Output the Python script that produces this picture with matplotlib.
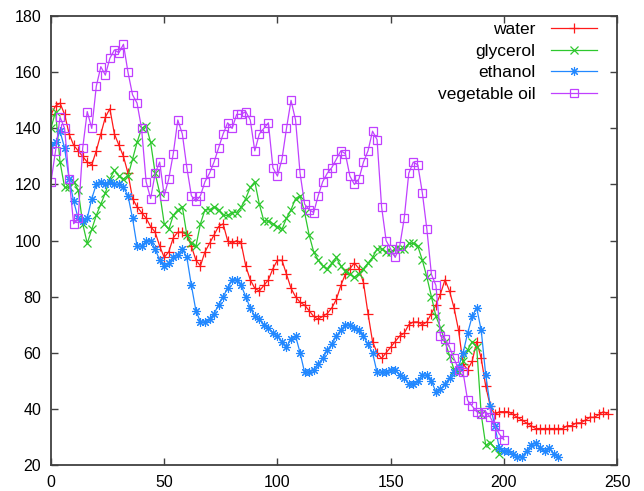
import matplotlib

matplotlib.use("Agg")

import matplotlib.pyplot as plt
import numpy as np

plt.rcParams["font.family"] = ["Liberation Sans", "DejaVu Sans"]

# values, every 2 units along x
water_x = np.arange(0, 248, 2)
water = [
    145, 148, 149, 145, 138, 134, 132, 130, 128, 127, 132, 138, 144, 147, 138, 134,
    130, 124, 115, 112, 110, 108, 105, 103, 98, 94, 96, 101, 103, 103, 102, 98,
    93, 91, 96, 99, 102, 105, 106, 100, 99, 100, 99, 91, 86, 83, 82, 84,
    86, 90, 93, 93, 88, 83, 80, 78, 77, 75, 73, 72, 73, 74, 76, 79,
    84, 88, 90, 92, 90, 85, 74, 64, 60, 58, 60, 62, 64, 66, 67, 70,
    71, 71, 70, 71, 74, 77, 81, 86, 82, 76, 68, 56, 54, 57, 64, 58,
    48, 41, 38, 39, 39, 39, 38, 37, 36, 35, 34, 33, 33, 33, 33, 33,
    33, 33, 34, 34, 35, 35, 36, 37, 37, 38, 39, 38,
]

glycerol_x = np.arange(0, 200, 2)
glycerol = [
    140, 146, 128, 119, 119, 121, 118, 106, 99, 104, 109, 113, 117, 122, 125, 123,
    122, 123, 129, 135, 140, 141, 135, 124, 117, 106, 104, 109, 111, 112, 102, 99,
    98, 106, 111, 111, 112, 111, 109, 109, 110, 110, 112, 115, 119, 121, 113, 107,
    107, 106, 105, 104, 108, 111, 115, 116, 110, 102, 96, 93, 91, 90, 92, 94,
    91, 89, 88, 87, 88, 90, 92, 94, 97, 97, 96, 96, 97, 97, 97, 99,
    99, 98, 93, 87, 80, 73, 69, 64, 59, 54, 53, 57, 61, 64, 62, 38,
    27, 28, 26, 24,
]

ethanol_x = np.arange(0, 226, 2)
ethanol = [
    134, 135, 139, 133, 122, 114, 108, 107, 108, 115, 120, 121, 120, 121, 120, 120,
    119, 116, 108, 98, 98, 100, 100, 97, 93, 91, 92, 94, 95, 97, 94, 84,
    75, 71, 71, 72, 74, 77, 80, 83, 86, 86, 84, 80, 76, 73, 72, 70,
    69, 67, 66, 64, 62, 65, 66, 60, 53, 53, 54, 56, 58, 61, 63, 66,
    68, 70, 70, 69, 68, 66, 63, 60, 53, 53, 53, 54, 54, 52, 51, 49,
    49, 50, 52, 52, 50, 46, 47, 49, 51, 53, 55, 60, 67, 73, 76, 68,
    52, 41, 34, 26, 25, 25, 24, 23, 23, 25, 27, 28, 26, 25, 26, 24,
    23,
]

oil_x = np.arange(0, 202, 2)
oil = [
    121, 132, 144, 140, 122, 106, 108, 133, 146, 140, 155, 162, 159, 165, 168, 167,
    170, 160, 152, 149, 140, 121, 115, 124, 128, 116, 122, 131, 143, 138, 126, 116,
    114, 116, 121, 124, 128, 133, 138, 142, 140, 145, 145, 146, 143, 132, 138, 140,
    142, 126, 123, 129, 140, 150, 143, 124, 113, 111, 110, 116, 121, 124, 126, 129,
    132, 131, 123, 120, 122, 128, 132, 139, 136, 112, 100, 97, 94, 98, 108, 124,
    128, 127, 117, 104, 88, 84, 66, 65, 62, 58, 54, 53, 43, 41, 39, 38,
    39, 37, 34, 31, 29,
]

labels = ["water", "glycerol", "ethanol", "vegetable oil"]
colors = ["#ff1a1a", "#2ec82e", "#2288ff", "#c040ff"]

fig = plt.figure(figsize=(6.44, 4.91), dpi=100)
ax = fig.add_axes([0.0792, 0.053, 0.879, 0.914])

ax.plot(water_x, water, color=colors[0], lw=0.9, marker="+", ms=7, mew=0.9, label=labels[0])
ax.plot(glycerol_x, glycerol, color=colors[1], lw=0.9, marker="x", ms=6, mew=0.9, label=labels[1])
ax.plot(ethanol_x, ethanol, color=colors[2], lw=0.9, marker=(8, 2, 0), ms=6.5, mew=0.8, label=labels[2])
ax.plot(oil_x, oil, color=colors[3], lw=0.9, marker="s", ms=6, mew=0.9, mfc="none", label=labels[3])

ax.set_xlim(0, 250)
ax.set_ylim(20, 180)
ax.set_xticks(np.arange(0, 251, 50))
ax.set_yticks(np.arange(20, 181, 20))
ax.tick_params(direction="in", top=True, right=True, length=5, width=1,
               labelsize=11.5, color="#404040", pad=7)
for side in ax.spines.values():
    side.set_color("#404040")
    side.set_linewidth(1.3)

ax.legend(
    loc="upper right",
    bbox_to_anchor=(0.965, 0.987),
    frameon=False,
    markerfirst=False,
    numpoints=1,
    fontsize=12.5,
    handlelength=2.65,
    handletextpad=0.9,
    labelspacing=0.37,
    borderpad=0,
    borderaxespad=0,
)

fig.savefig("out.png", dpi=100)
